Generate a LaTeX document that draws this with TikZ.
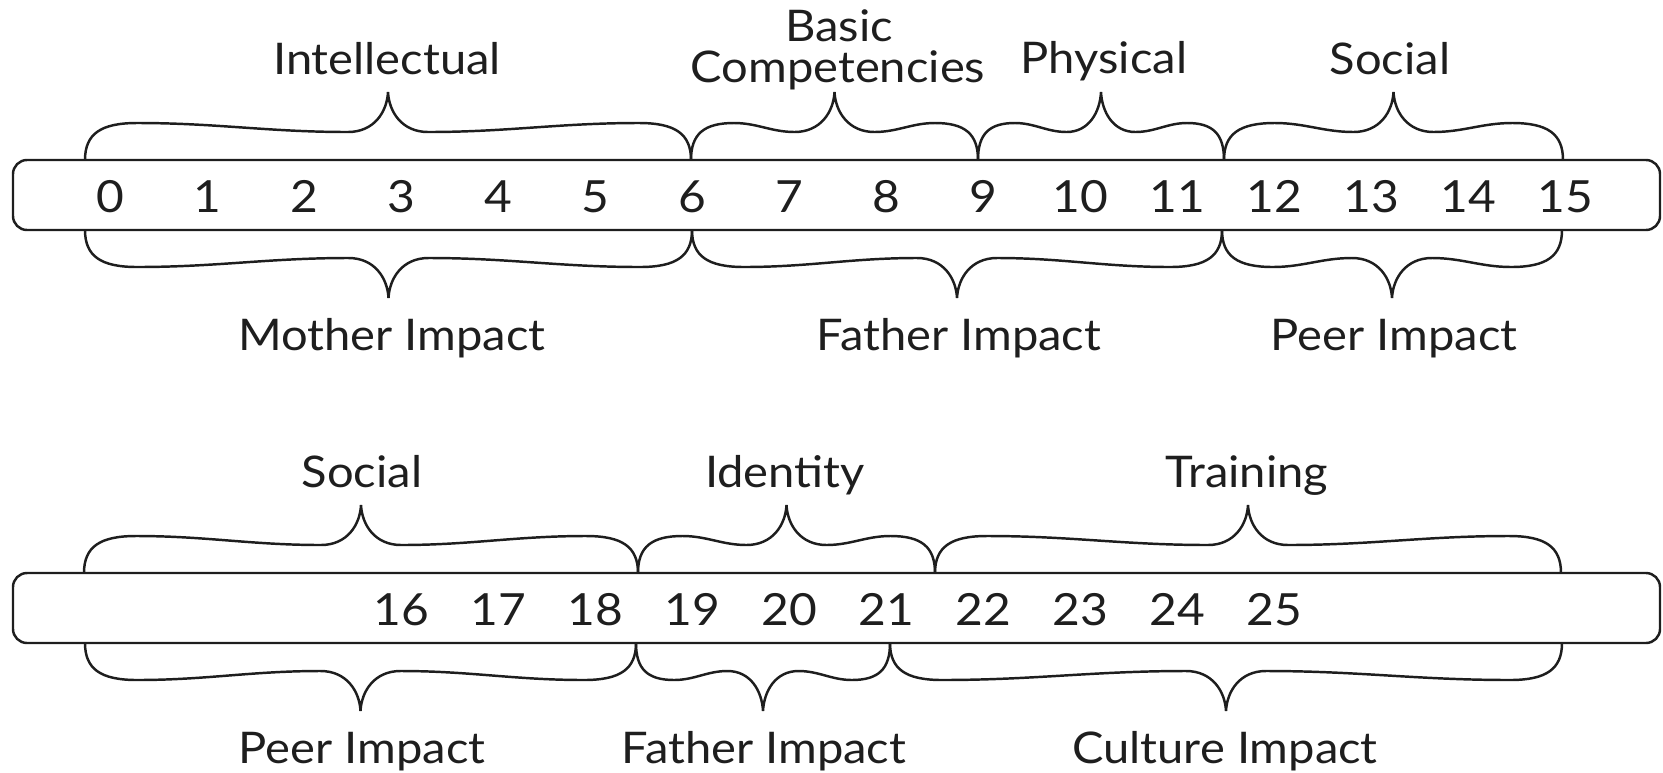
\documentclass[tikz,border=0pt]{standalone}
\usepackage{fontspec}
\setmainfont{Lato}[FakeStretch=1.08]
\usetikzlibrary{calc}
\definecolor{ink}{HTML}{1E1E1E}
\newcommand{\ribrace}[4]{% x1, x2, y0, dir (-1 up, 1 down)
  \pgfmathsetmacro{\bxm}{(#1+#2)/2}
  \pgfmathsetmacro{\bL}{(#2-#1)/2}
  \pgfmathsetmacro{\bo}{min(52,0.3*\bL)}
  \pgfmathsetmacro{\bi}{min(40,0.28*\bL)}
  \pgfmathsetmacro{\bk}{0.38*(\bL-\bo-\bi)}
  \pgfmathsetmacro{\bya}{#3+#4*26}
  \pgfmathsetmacro{\byl}{#3+#4*37}
  \pgfmathsetmacro{\byd}{#3+#4*28}
  \pgfmathsetmacro{\bym}{#3+#4*48}
  \pgfmathsetmacro{\byt}{#3+#4*68}
  \draw[bracestyle] (#1,#3)
    .. controls (#1,\bya) and (#1+0.3*\bo,\byl) .. (#1+\bo,\byl)
    .. controls (#1+\bo+\bk,\byl) and (\bxm-\bi-\bk,\byd) .. (\bxm-\bi,\byd)
    .. controls (\bxm-0.35*\bi,\byd) and (\bxm-1,\bym) .. (\bxm,\byt)
    .. controls (\bxm+1,\bym) and (\bxm+0.35*\bi,\byd) .. (\bxm+\bi,\byd)
    .. controls (\bxm+\bi+\bk,\byd) and (#2-\bo-\bk,\byl) .. (#2-\bo,\byl)
    .. controls (#2-0.3*\bo,\byl) and (#2,\bya) .. (#2,#3);
}
\begin{document}
\begin{tikzpicture}[x=0.01cm,y=-0.01cm,
  barbox/.style={draw=ink,line width=0.7pt,rounded corners=0.14cm},
  bracestyle/.style={draw=ink,line width=0.7pt},
  num/.style={anchor=base,inner sep=0pt,text=ink,font=\fontsize{12.6pt}{14pt}\selectfont},
  lbl/.style={anchor=base,inner sep=0pt,text=ink,font=\fontsize{12.4pt}{14pt}\selectfont}]
\useasboundingbox (0,0) rectangle (1663,772);
% bars
\draw[barbox] (13,160) rectangle (1660,230);
\draw[barbox] (13,573) rectangle (1660,643);
% digits
\foreach \k in {0,...,15} \node[num] (d\k) at ({110+97*\k},212) {\k};
\foreach \k in {16,...,25} \node[num] (d\k) at ({401+97*(\k-16)},625) {\k};
% top bar braces
\ribrace{85}{691}{160}{-1}
\ribrace{691}{978}{160}{-1}
\ribrace{978}{1224}{160}{-1}
\ribrace{1224}{1563}{160}{-1}
\ribrace{85}{692}{230}{1}
\ribrace{692}{1222}{230}{1}
\ribrace{1222}{1562}{230}{1}
% bottom bar braces
\ribrace{84}{638}{573}{-1}
\ribrace{638}{935}{573}{-1}
\ribrace{935}{1561}{573}{-1}
\ribrace{85}{636}{643}{1}
\ribrace{636}{890}{643}{1}
\ribrace{890}{1562}{643}{1}
% labels
\node[lbl] (intel) at (387,74) {Intellectual};
\node[lbl] (basic) at (839,41) {Basic};
\node[lbl] (comp) at (838,82) {Competencies};
\node[lbl] (phys) at (1104,73) {Physical};
\node[lbl] (soc1) at (1390,74) {Social};
\node[lbl] (moth) at (392,350) {Mother Impact};
\node[lbl] (fath1) at (959,350) {Father Impact};
\node[lbl] (peer1) at (1394,350) {Peer Impact};
\node[lbl] (soc2) at (362,487) {Social};
\node[lbl] (iden) at (785,487) {Identity};
\node[lbl] (train) at (1247,487) {Training};
\node[lbl] (peer2) at (362,763) {Peer Impact};
\node[lbl] (fath2) at (764,763) {Father Impact};
\node[lbl] (cult) at (1225,763) {Culture Impact};
\end{tikzpicture}
\end{document}
